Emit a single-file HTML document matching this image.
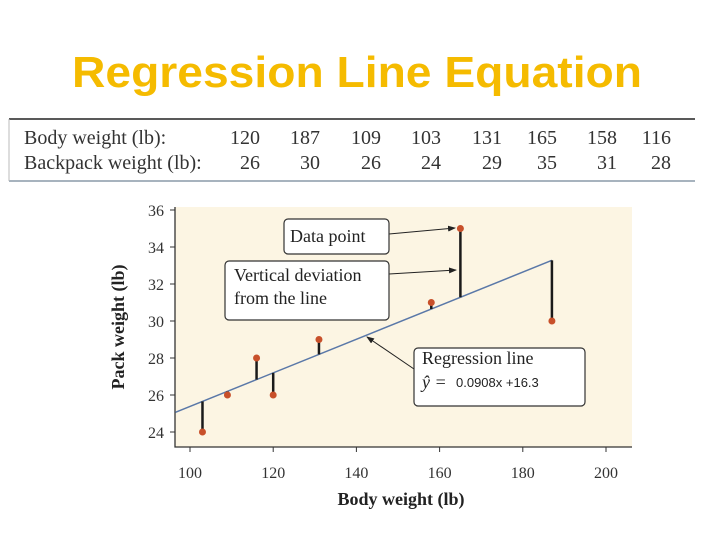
<!DOCTYPE html>
<html><head><meta charset="utf-8"><style>
html,body{margin:0;padding:0;background:#fff;width:720px;height:540px;overflow:hidden}
svg{display:block}
.serif{font-family:"Liberation Serif",serif}
</style></head><body>
<svg id="c" width="720" height="540" xmlns="http://www.w3.org/2000/svg">
<text x="357" y="87" text-anchor="middle" font-family="Liberation Sans, sans-serif" font-weight="bold" font-size="44" fill="#f5bb00" textLength="570" lengthAdjust="spacingAndGlyphs">Regression Line Equation</text>
<g>
<line x1="9" y1="119" x2="695" y2="119" stroke="#222" stroke-width="1.5"/>
<line x1="9" y1="181" x2="695" y2="181" stroke="#8a9aa8" stroke-width="1.5"/>
<line x1="9" y1="119" x2="9" y2="181" stroke="#bbb" stroke-width="1"/>
<text class="serif" x="24" y="144" font-size="20" fill="#333">Body weight (lb):</text>
<text class="serif" x="24" y="169" font-size="20" fill="#333">Backpack weight (lb):</text>
<g id="tbl"></g>
</g>
<g id="plot"></g>
</svg>
<script>
const bodyW=[120,187,109,103,131,165,158,116];
const packW=[26,30,26,24,29,35,31,28];
const xTicks=[100,120,140,160,180,200];
const yTicks=[24,26,28,30,32,34,36];
const slope=0.0908, intercept=16.3;
const NS="http://www.w3.org/2000/svg";
function mk(p,tag,a,t){const e=document.createElementNS(NS,tag);for(const k in a)e.setAttribute(k,a[k]);if(t!==undefined)e.textContent=t;p.appendChild(e);return e;}
const tbl=document.getElementById('tbl');
const colX=[260,320,381,441,502,557,617,671];
bodyW.forEach((v,i)=>{
 const t=mk(tbl,'text',{x:colX[i],y:144,'text-anchor':'end','font-size':20,fill:'#333',class:'serif'},v);
 
 
 const u=mk(tbl,'text',{x:colX[i]-(i==0?0:0),y:169,'text-anchor':'end','font-size':20,fill:'#333',class:'serif'},packW[i]);
 
 
});
const X=v=>190+(v-100)*4.16;
const Y=v=>432-(v-24)*18.5;
const P=document.getElementById('plot');
let e;
e=mk(P,'rect',{x:175,y:207,width:457,height:240,fill:'#fcf5e3'});


mk(P,'path',{d:'M175,207V447H632',fill:'none',stroke:'#333','stroke-width':1.3});
xTicks.forEach(v=>{
 mk(P,'line',{x1:X(v),y1:447,x2:X(v),y2:452,stroke:'#333'});
 e=mk(P,'text',{x:X(v),y:478,'text-anchor':'middle','font-size':16,fill:'#333',class:'serif'},v);
 
 
});
yTicks.forEach(v=>{
 mk(P,'line',{x1:170,y1:Y(v),x2:175,y2:Y(v),stroke:'#333'});
 e=mk(P,'text',{x:156,y:Y(v)+6,'text-anchor':'middle','font-size':16,fill:'#333',class:'serif'},v);
 
 
});
e=mk(P,'text',{x:401,y:505,'text-anchor':'middle','font-size':18,'font-weight':'bold',fill:'#222',class:'serif'},'Body weight (lb)');


e=mk(P,'text',{x:0,y:0,'text-anchor':'middle','font-size':18,'font-weight':'bold',fill:'#222',class:'serif',transform:'translate(124,327) rotate(-90)'},'Pack weight (lb)');


const f=x=>slope*x+intercept;
e=mk(P,'line',{x1:X(96.5),y1:Y(f(96.5)),x2:X(187),y2:Y(f(187)),stroke:'#5a78a8','stroke-width':1.5});


bodyW.forEach((v,i)=>{
 e=mk(P,'line',{x1:X(v),y1:Y(f(v)),x2:X(v),y2:Y(packW[i]),stroke:'#1a1a1a','stroke-width':2.5});
 
 
});
bodyW.forEach((v,i)=>{
 e=mk(P,'circle',{cx:X(v),cy:Y(packW[i]),r:3.5,fill:'#c8502a'});
 
 
});
mk(P,'defs',{}).innerHTML='<marker id="ar" markerWidth="8" markerHeight="6" refX="7" refY="3" orient="auto"><path d="M0,0L8,3L0,6z" fill="#222"/></marker>';
function box(x,y,w,h,name){e=mk(P,'rect',{x,y,width:w,height:h,rx:4,fill:'#fff',stroke:'#333','stroke-width':1.2});}
mk(P,'line',{x1:389,y1:234,x2:455,y2:228,stroke:'#222','marker-end':'url(#ar)'});
mk(P,'line',{x1:389,y1:274,x2:456,y2:270,stroke:'#222','marker-end':'url(#ar)'});
mk(P,'line',{x1:414,y1:369,x2:367,y2:337,stroke:'#222','marker-end':'url(#ar)'});
box(284,219,105,35,'data-point-callout');
box(225,261,164,59,'vertical-deviation-callout');
box(414,348,171,58,'regression-line-callout');
mk(P,'text',{x:290,y:242,'font-size':18,fill:'#222',class:'serif'},'Data point');
mk(P,'text',{x:234,y:281,'font-size':18,fill:'#222',class:'serif'},'Vertical deviation');
mk(P,'text',{x:234,y:304,'font-size':18,fill:'#222',class:'serif'},'from the line');
mk(P,'text',{x:422,y:364,'font-size':18,fill:'#222',class:'serif'},'Regression line');
mk(P,'text',{x:422,y:388,'font-size':18,'font-style':'italic',fill:'#222',class:'serif'},'ŷ =');
mk(P,'text',{x:456,y:387,'font-size':13,fill:'#222','font-family':'Liberation Sans, sans-serif'},'0.0908x +16.3');
</script>
</body></html>
